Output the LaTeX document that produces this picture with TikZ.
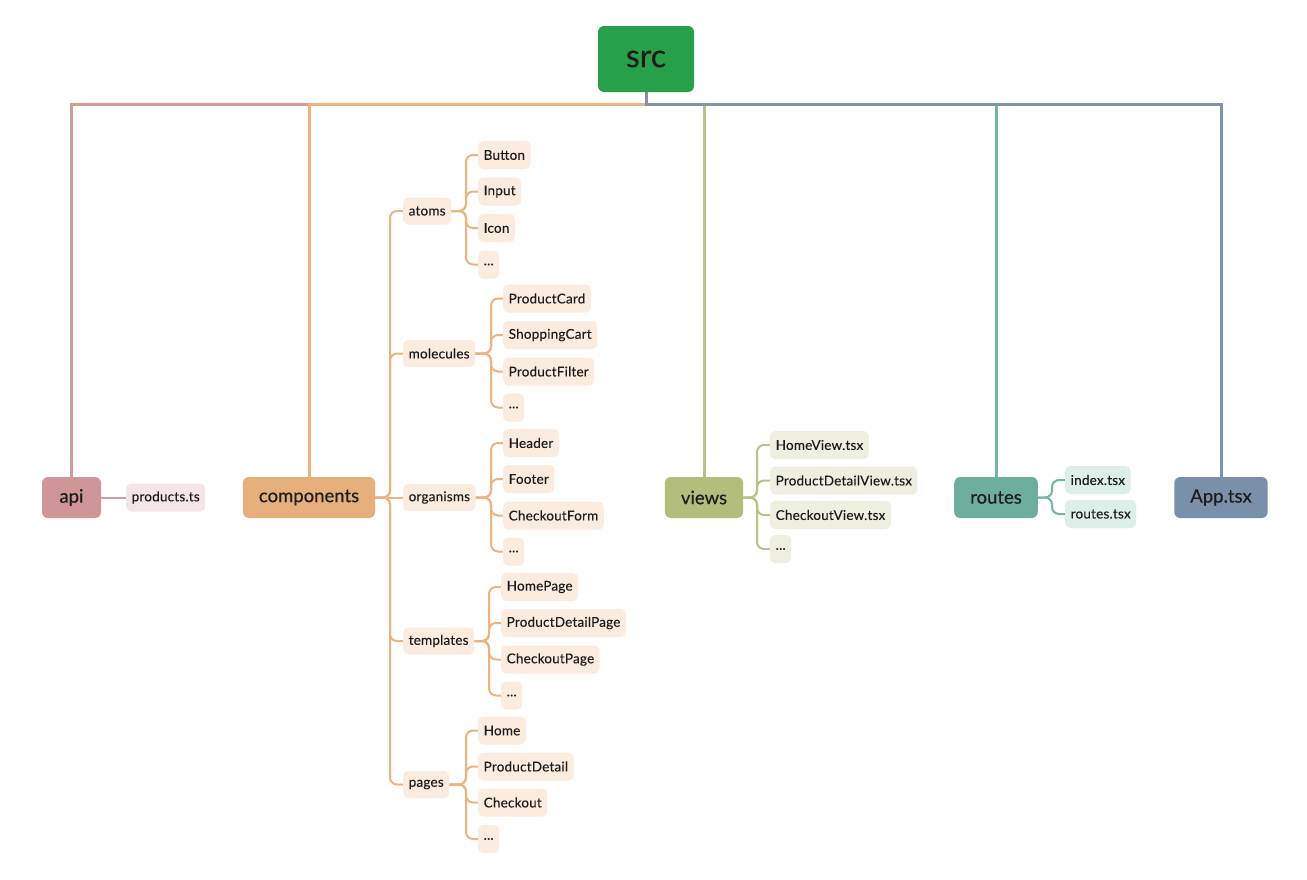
\documentclass[tikz,border=0pt]{standalone}
\usepackage{fontspec}
\setmainfont{Lato}
\newfontfamily\labelfont{Lato}[FakeBold=0.35]
\newfontfamily\leaffont{Lato}[FakeBold=0.1, LetterSpace=1.5]
\usetikzlibrary{backgrounds}

% palette
\definecolor{ink}{HTML}{1C1C1C}
\definecolor{srcF}{HTML}{28A04A}
\definecolor{apiF}{HTML}{D09596}
\definecolor{apiE}{HTML}{D69A98}
\definecolor{apiL}{HTML}{F4E6E7}
\definecolor{compF}{HTML}{E7AF7B}
\definecolor{compE}{HTML}{EDB37F}
\definecolor{compL}{HTML}{FBECDF}
\definecolor{viewF}{HTML}{B3BD7C}
\definecolor{viewE}{HTML}{B9C385}
\definecolor{viewL}{HTML}{EFEFE1}
\definecolor{routF}{HTML}{6DAE9F}
\definecolor{routE}{HTML}{74B4A4}
\definecolor{routL}{HTML}{DEEFEA}
\definecolor{appF}{HTML}{7A8FAA}
\definecolor{appE}{HTML}{7E93AB}

\begin{document}
\begin{tikzpicture}[x=1pt,y=-1pt,
  mainbox/.style={rounded corners=6pt, minimum height=41pt, minimum width=59pt,
    inner xsep=16pt, text=ink, font=\labelfont\fontsize{18.5}{20}\selectfont},
  catbox/.style={rounded corners=5pt, fill=compL, minimum height=27pt,
    inner xsep=5.5pt, anchor=west, text=ink, font=\leaffont\fontsize{13.5}{15}\selectfont},
  leafbox/.style={rounded corners=5pt, minimum height=28pt,
    inner xsep=5.5pt, anchor=west, text=ink, font=\leaffont\fontsize{13.5}{15}\selectfont},
  busline/.style={line width=3pt},
  link/.style={line width=2pt, rounded corners=7pt},
]

% root
\node[rounded corners=6pt, fill=srcF, minimum width=96pt, minimum height=66pt,
  text=ink, font=\labelfont\fontsize{32}{34}\selectfont] (src) at (646,59) {src};

% top-level folders
\node[mainbox, fill=apiF]  (api)        at (71.5,497.5) {api};
\node[mainbox, fill=compF] (components) at (309,497.5)  {components};
\node[mainbox, fill=viewF] (views)      at (704,497.5)  {views};
\node[mainbox, fill=routF] (routes)     at (996,497.5)  {routes};
\node[mainbox, fill=appF]  (app)        at (1221,497.5) {App.tsx};

% api
\node[leafbox, fill=apiL] (prod) at (126,497.5) {products.ts};

% component categories
\node[catbox] (atoms)     at (403,211) {atoms};
\node[catbox] (molecules) at (403,353.5) {molecules};
\node[catbox] (organisms) at (403,497.5) {organisms};
\node[catbox] (templates) at (403,641) {templates};
\node[catbox] (pages)     at (403,784.5) {pages};

% component leaves
\foreach \n/\y/\t in {a1/155/Button, a2/191.5/Input, a3/228/Icon, a4/264.5/{...}}
  \node[leafbox, fill=compL] (\n) at (478,\y) {\t};
\foreach \n/\y/\t in {m1/298.5/ProductCard, m2/335/ShoppingCart, m3/371.5/ProductFilter, m4/407.5/{...}}
  \node[leafbox, fill=compL] (\n) at (503,\y) {\t};
\foreach \n/\y/\t in {o1/443/Header, o2/479/Footer, o3/515.5/CheckoutForm, o4/551.5/{...}}
  \node[leafbox, fill=compL] (\n) at (503,\y) {\t};
\foreach \n/\y/\t in {t1/587/HomePage, t2/623/ProductDetailPage, t3/659.5/CheckoutPage, t4/695.5/{...}}
  \node[leafbox, fill=compL] (\n) at (501,\y) {\t};
\foreach \n/\y/\t in {p1/730.5/Home, p2/766.5/ProductDetail, p3/802.5/Checkout, p4/839/{...}}
  \node[leafbox, fill=compL] (\n) at (478,\y) {\t};

% views leaves
\foreach \n/\y/\t in {v1/445/HomeView.tsx, v2/480.5/ProductDetailView.tsx, v3/515/CheckoutView.tsx, v4/549/{...}}
  \node[leafbox, fill=viewL] (\n) at (770,\y) {\t};

% routes leaves
\node[leafbox, fill=routL] (r1) at (1065,480) {index.tsx};
\node[leafbox, fill=routL] (r2) at (1065,514) {routes.tsx};

\begin{scope}[on background layer]
  \fill[white] (0,0) rectangle (1307,879);

  % bus from src to each top-level folder
  \draw[apiE,  busline] (src.south) -- ++(0,12) -| (api.north);
  \draw[compE, busline] (src.south) -- ++(0,12) -| (components.north);
  \draw[viewE, busline] (src.south) -- ++(0,12) -| (views.north);
  \draw[routE, busline] (src.south) -- ++(0,12) -| (routes.north);
  \draw[appE,  busline] (src.south) -- ++(0,12) -| (app.north);

  % api
  \draw[apiE, link] (api.east) -- (prod.west);

  % components -> categories
  \foreach \c in {atoms, molecules, templates, pages}
    \draw[compE, link] (components.east) -| ([xshift=-13pt]\c.west) -- (\c.west);
  \draw[compE, link] (components.east) -- (organisms.west);

  % categories -> leaves
  \foreach \p/\l in {atoms/a, molecules/m, organisms/o, templates/t, pages/p}
    \foreach \i in {1,...,4}
      \draw[compE, link] (\p.east) -| ([xshift=-12pt]\l\i.west) -- (\l\i.west);

  % views -> leaves
  \foreach \i in {1,...,4}
    \draw[viewE, link] (views.east) -| ([xshift=-13pt]v\i.west) -- (v\i.west);

  % routes -> leaves
  \foreach \i in {1,2}
    \draw[routE, link] (routes.east) -| ([xshift=-13pt]r\i.west) -- (r\i.west);
\end{scope}
\end{tikzpicture}
\end{document}
